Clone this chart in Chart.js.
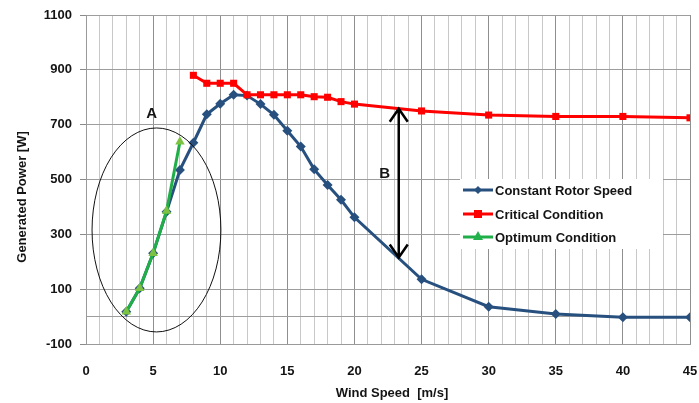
<!DOCTYPE html>
<html>
<head>
<meta charset="utf-8">
<script src="https://cdn.jsdelivr.net/npm/chart.js@4.4.0/dist/chart.umd.min.js"></script>
<style>
  html, body { margin: 0; padding: 0; background: #fff; }
  #wrap { width: 699px; height: 403px; position: relative; }
</style>
</head>
<body>
<div id="wrap"><canvas id="powerChart" width="699" height="403"></canvas></div>
<script>
// wind speed [m/s] and generated power [W]
const rotorSpeedX = [3, 4, 5, 6, 7, 8, 9, 10, 11, 12, 13, 14, 15, 16, 17, 18, 19, 20, 25, 30, 35, 40, 45];
const rotorSpeedY = [18, 103, 231, 382, 535, 634, 738, 776, 809, 806, 775, 736, 678, 620, 537, 480, 426, 362, 136, 36, 9, -2, -2];

const criticalX = [8, 9, 10, 11, 12, 13, 14, 15, 16, 17, 18, 19, 20, 25, 30, 35, 40, 45];
const criticalY = [880, 851, 851, 851, 809, 809, 809, 809, 809, 802, 800, 784, 775, 750, 735, 730, 730, 725];

const optimumX = [3, 4, 5, 6, 7];
const optimumY = [18, 103, 231, 385, 638];

const seriesNames = ['Constant Rotor Speed', 'Critical Condition', 'Optimum Condition'];
const yTickValues = [-100, 0, 100, 300, 500, 700, 900, 1100];
const xLabelValues = [0, 5, 10, 15, 20, 25, 30, 35, 40, 45];

const toPoints = (xs, ys) => xs.map((x, i) => ({ x: x, y: ys[i] }));

const BLUE = '#27507f';
const RED = '#ff0000';
const GREEN = '#1fae48';
const GREEN_MARK = '#7cc242';
const TEXT = '#141414';
const FONT = "'Liberation Sans', Arial, sans-serif";

// axis titles, ellipse "A", arrow "B" and the legend box drawn on top of the plot
const overlayPlugin = {
    id: 'overlay',
    afterDatasetsDraw(chart) {
        const ctx = chart.ctx;
        const xs = chart.scales.x, ys = chart.scales.y;
        ctx.save();

        // axis titles
        ctx.fillStyle = TEXT;
        ctx.font = "bold 13px " + FONT;
        ctx.textAlign = 'center';
        ctx.textBaseline = 'middle';
        ctx.fillText('Wind Speed  [m/s]', 392, 393);
        ctx.save();
        ctx.translate(22, 197);
        ctx.rotate(-Math.PI / 2);
        ctx.fillText('Generated Power [W]', 0, 0);
        ctx.restore();

        // ellipse A (data units)
        const cx = xs.getPixelForValue(5.25), cy = ys.getPixelForValue(316);
        const rx = xs.getPixelForValue(5.25 + 4.8) - cx;
        const ry = cy - ys.getPixelForValue(316 + 372);
        ctx.beginPath();
        ctx.ellipse(cx, cy, rx, ry, 0, 0, Math.PI * 2);
        ctx.strokeStyle = '#111';
        ctx.lineWidth = 1;
        ctx.stroke();

        ctx.fillStyle = TEXT;
        ctx.font = "bold 15px " + FONT;
        ctx.fillText('A', xs.getPixelForValue(4.9), ys.getPixelForValue(741));
        ctx.fillText('B', xs.getPixelForValue(22.25), ys.getPixelForValue(520));

        // double arrow B
        const ax = xs.getPixelForValue(23.3);
        const top = ys.getPixelForValue(762), bot = ys.getPixelForValue(212);
        ctx.strokeStyle = '#000';
        ctx.lineWidth = 2.5;
        ctx.beginPath();
        ctx.moveTo(ax, top); ctx.lineTo(ax, bot);
        ctx.moveTo(ax - 9, top + 14); ctx.lineTo(ax, top + 1); ctx.lineTo(ax + 9, top + 14);
        ctx.moveTo(ax - 9, bot - 14); ctx.lineTo(ax, bot - 1); ctx.lineTo(ax + 9, bot - 14);
        ctx.stroke();

        // legend
        ctx.fillStyle = '#fff';
        ctx.fillRect(460, 179, 203, 70);
        const rows = [190, 214, 237];
        const colors = [BLUE, RED, GREEN];
        rows.forEach((ry2, i) => {
            ctx.strokeStyle = colors[i];
            ctx.lineWidth = 3;
            ctx.beginPath();
            ctx.moveTo(463, ry2); ctx.lineTo(493, ry2);
            ctx.stroke();
            const mx = 478;
            ctx.beginPath();
            if (i === 0) {
                ctx.fillStyle = BLUE;
                ctx.moveTo(mx, ry2 - 4); ctx.lineTo(mx + 4, ry2); ctx.lineTo(mx, ry2 + 4); ctx.lineTo(mx - 4, ry2);
                ctx.closePath(); ctx.fill();
            } else if (i === 1) {
                ctx.fillStyle = RED;
                ctx.fillRect(mx - 4, ry2 - 4, 8, 8);
            } else {
                ctx.fillStyle = '#22b24c';
                ctx.moveTo(mx, ry2 - 6); ctx.lineTo(mx + 5, ry2 + 3); ctx.lineTo(mx - 5, ry2 + 3);
                ctx.closePath(); ctx.fill();
            }
            ctx.fillStyle = TEXT;
            ctx.font = "bold 13px " + FONT;
            ctx.textAlign = 'left';
            ctx.textBaseline = 'middle';
            ctx.fillText(seriesNames[i], 495, ry2 + 1);
        });
        ctx.restore();
    }
};

new Chart(document.getElementById('powerChart').getContext('2d'), {
    type: 'line',
    data: {
        datasets: [
            {
                label: seriesNames[0],
                data: toPoints(rotorSpeedX, rotorSpeedY),
                borderColor: BLUE,
                backgroundColor: BLUE,
                borderWidth: 3,
                pointStyle: 'rectRot',
                pointRadius: 5,
                pointBorderWidth: 0,
                order: 3
            },
            {
                label: seriesNames[1],
                data: toPoints(criticalX, criticalY),
                borderColor: RED,
                backgroundColor: RED,
                borderWidth: 3,
                pointStyle: 'rect',
                pointRadius: 5,
                pointBorderWidth: 0,
                order: 2
            },
            {
                label: seriesNames[2],
                data: toPoints(optimumX, optimumY),
                borderColor: GREEN,
                backgroundColor: GREEN_MARK,
                borderWidth: 3,
                pointStyle: 'triangle',
                pointRadius: 5.5,
                pointBorderWidth: 0,
                order: 1
            }
        ]
    },
    options: {
        responsive: false,
        animation: false,
        layout: { padding: { top: 15, right: 9, left: 0, bottom: 0 } },
        plugins: {
            legend: { display: false },
            tooltip: { enabled: false }
        },
        scales: {
            x: {
                type: 'linear',
                min: 0,
                max: 45,
                border: { color: '#9a9a9a', width: 1 },
                ticks: {
                    stepSize: 1,
                    autoSkip: false,
                    maxRotation: 0,
                    padding: 20,
                    color: TEXT,
                    font: { family: FONT, size: 13, weight: 'bold' },
                    callback: v => xLabelValues.includes(v) ? String(v) : ''
                },
                grid: {
                    color: c => (c.tick && c.tick.value % 5 === 0) ? '#8f8f8f' : '#c8c8c8',
                    lineWidth: 1,
                    tickLength: 0,
                    drawTicks: false
                },
                afterFit: s => { s.height = 59; s.paddingLeft = 0; s.paddingRight = 0; }
            },
            y: {
                min: -100,
                max: 1100,
                border: { color: '#9a9a9a', width: 1 },
                afterBuildTicks: s => { s.ticks = yTickValues.map(v => ({ value: v })); },
                ticks: {
                    padding: 8,
                    color: TEXT,
                    font: { family: FONT, size: 13, weight: 'bold' },
                    callback: v => v === 0 ? '' : String(v)
                },
                grid: {
                    color: '#9d9d9d',
                    lineWidth: 1,
                    tickLength: 6,
                    tickColor: c => (c.tick && c.tick.value === 0) ? 'rgba(0,0,0,0)' : '#8a8a8a'
                },
                afterFit: s => { s.width = 86; s.paddingTop = 0; s.paddingBottom = 0; }
            }
        }
    },
    plugins: [overlayPlugin]
});
</script>
</body>
</html>
